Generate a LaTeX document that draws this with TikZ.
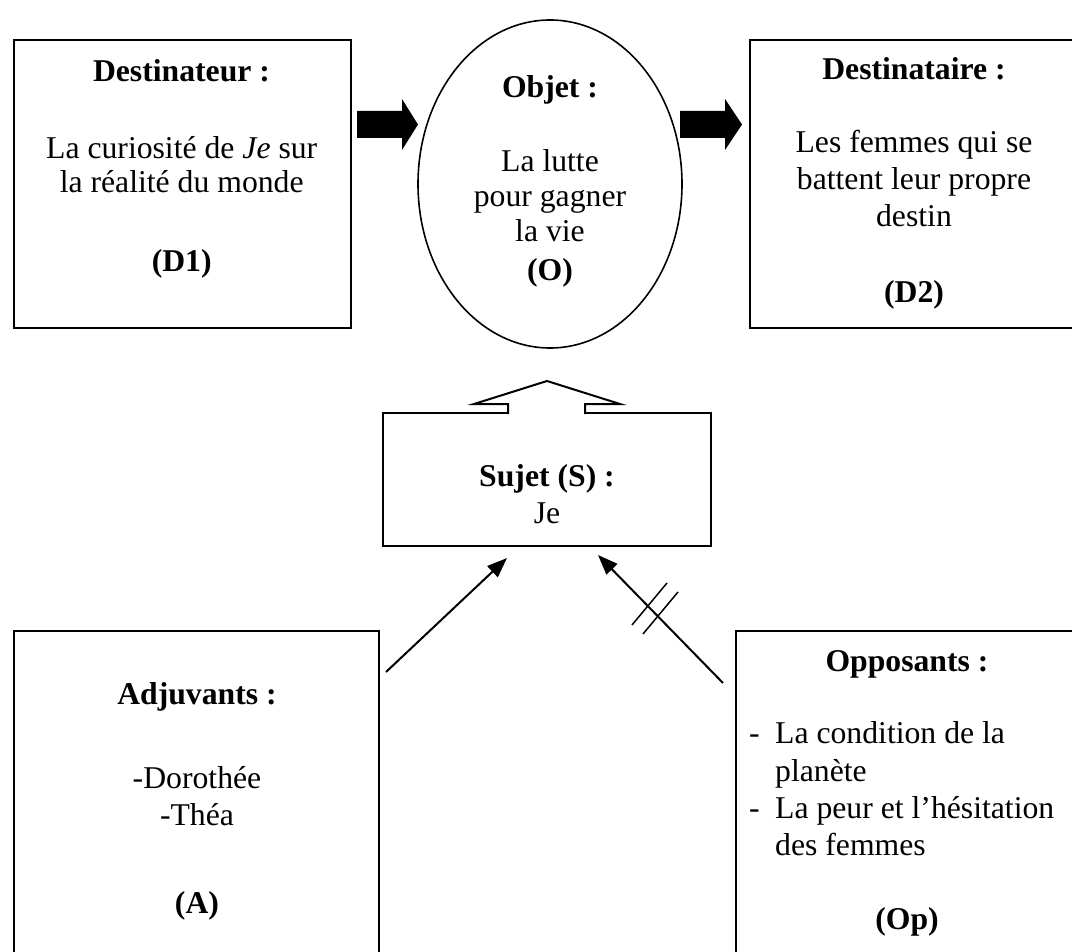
\documentclass[tikz,border=0pt]{standalone}
\usepackage{fontspec}
\setmainfont{Liberation Serif}
\usetikzlibrary{arrows.meta,shapes.geometric}
\begin{document}
\begin{tikzpicture}[x=1pt,y=-1pt,
  box/.style={draw,line width=2pt,rectangle,inner sep=0pt,outer sep=0pt},
  txt/.style={inner sep=0pt,anchor=base,font=\fontsize{31.7}{36}\selectfont},
  ltxt/.style={txt,anchor=base west},
  blockarrow/.style={fill=black},
  conn/.style={line width=2pt,-{Triangle[length=20pt,width=15pt]}},
  tick/.style={line width=1.5pt}]
\useasboundingbox (0,0) rectangle (1072,952);
\clip (0,0) rectangle (1072,952);

% boxes
\node[box,minimum width=337pt,minimum height=288pt] (D1) at (182.5,184) {};
\node[draw,ellipse,line width=1.6pt,inner sep=0pt,minimum width=264pt,minimum height=328pt] (O) at (550,184) {};
\node[box,minimum width=328pt,minimum height=288pt] (D2) at (914,184) {};
\node[box,minimum width=328pt,minimum height=133pt] (S) at (547,479.5) {};
\node[box,minimum width=365pt,minimum height=349pt] (A) at (196.5,805.5) {};
\node[box,minimum width=354pt,minimum height=349pt] (Op) at (913,805.5) {};

% block arrows
\fill[blockarrow] (357,111) -- (402,111) -- (402,99) -- (418,124.5) -- (402,150) -- (402,138) -- (357,138) -- cycle;
\fill[blockarrow] (680,111) -- (725,111) -- (725,99) -- (742,124.5) -- (725,150) -- (725,138) -- (680,138) -- cycle;

% hollow arrow from S to O
\fill[white] (509,403) rectangle (584,416);
\draw[line width=2pt,line join=miter] (508,414) -- (508,404) -- (474,404) -- (547,381) -- (620,404) -- (585,404) -- (585,414);

% slanted connectors
\coordinate (a1) at (386,672);
\coordinate (a2) at (507,558);
\coordinate (b1) at (723,683);
\coordinate (b2) at (598,555);
\draw[conn] (a1) -- (a2);
\draw[conn] (b1) -- (b2);
\coordinate (t1a) at (632,625); \coordinate (t1b) at (667,583);
\coordinate (t2a) at (643,634); \coordinate (t2b) at (678,592);
\draw[tick] (t1a) -- (t1b);
\draw[tick] (t2a) -- (t2b);

% texts D1
\node[txt] (d1t) at (181.5,82) {\bfseries Destinateur :};
\node[txt] (d1a) at (181.7,159) {La curiosité de \textit{Je} sur};
\node[txt] (d1b) at (181.7,193) {la réalité du monde};
\node[txt] (d1c) at (181.7,272) {\bfseries (D1)};
% texts O
\node[txt] (ot) at (550,98) {\bfseries Objet :};
\node[txt] (oa) at (550,172) {La lutte};
\node[txt] (ob) at (550,207) {pour gagner};
\node[txt] (oc) at (550,242) {la vie};
\node[txt] (od) at (550,281) {\bfseries (O)};
% texts D2
\node[txt] (d2t) at (914,80) {\bfseries Destinataire :};
\node[txt] (d2a) at (914,153) {Les femmes qui se};
\node[txt] (d2b) at (914,190) {battent leur propre};
\node[txt] (d2c) at (914,227) {destin};
\node[txt] (d2d) at (914,303) {\bfseries (D2)};
% texts S
\node[txt] (st) at (547,486) {\bfseries Sujet (S) :};
\node[txt] (sa) at (547,523) {Je};
% texts A
\node[txt] (at) at (197,704) {\bfseries Adjuvants :};
\node[txt] (aa) at (197,788) {-Dorothée};
\node[txt] (ab) at (197,825) {-Théa};
\node[txt] (ac) at (197,913) {\bfseries (A)};
% texts Op
\node[txt] (opt) at (907,671) {\bfseries Opposants :};
\node[ltxt] (oph1) at (749,743) {-};
\node[ltxt] (opa) at (775,743) {La condition de la};
\node[ltxt] (opb) at (775,781) {planète};
\node[ltxt] (oph2) at (749,818) {-};
\node[ltxt] (opc) at (775,818) {La peur et l’hésitation};
\node[ltxt] (opd) at (775,855) {des femmes};
\node[txt] (ope) at (907,929) {\bfseries (Op)};
\end{tikzpicture}
\end{document}
